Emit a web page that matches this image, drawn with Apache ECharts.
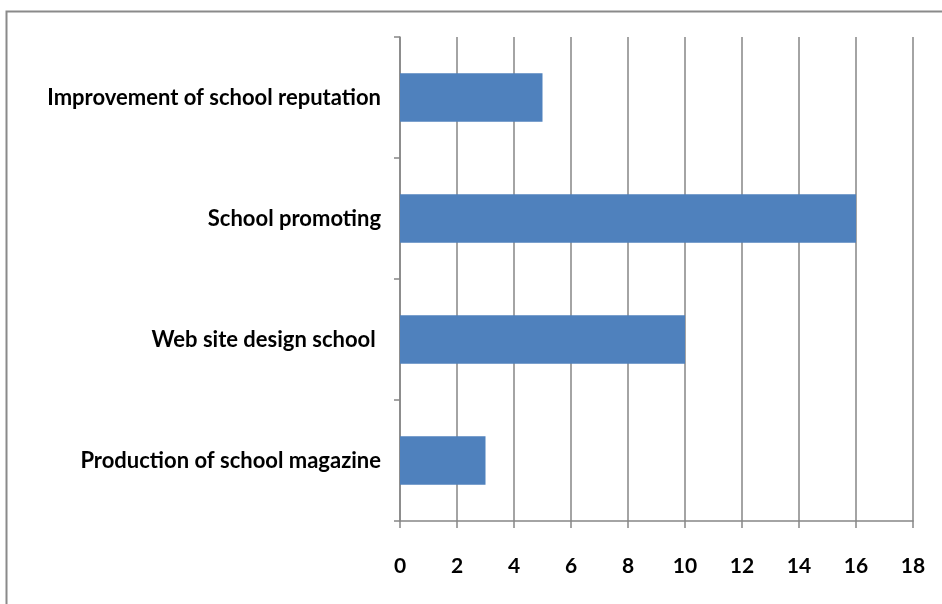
<!DOCTYPE html>
<html><head><meta charset="utf-8">
<script src="https://cdn.jsdelivr.net/npm/echarts@6/dist/echarts.min.js"></script>
<style>html,body{margin:0;padding:0;background:#fff}#c{width:942px;height:604px}</style>
</head><body><div id="c"></div>
<script>
const categories = ["Improvement of school reputation", "School promoting", "Web site design school ", "Production of school magazine"];
const values = [5, 16, 10, 3];
const xTicks = [0, 2, 4, 6, 8, 10, 12, 14, 16, 18];

const chart = echarts.init(document.getElementById('c'));
chart.setOption({
  animation: false,
  backgroundColor: '#fff',
  graphic: [{type: 'rect', left: 4, top: 9, shape: {width: 1000, height: 700}, style: {fill: 'none', stroke: '#8a8a8a', lineWidth: 2}}],
  grid: {left: 400, right: 29, top: 37, bottom: 83},
  xAxis: {
    type: 'value', min: xTicks[0], max: xTicks[xTicks.length - 1], interval: 2,
    axisLine: {show: true, lineStyle: {color: '#868686', width: 1.5}},
    axisTick: {show: true, length: 7, lineStyle: {color: '#868686', width: 1.5}},
    splitLine: {show: true, lineStyle: {color: '#868686', width: 1.5}},
    axisLabel: {margin: 35, color: '#000', fontFamily: 'Lato', fontSize: 21, fontWeight: 'bold'}
  },
  yAxis: {
    type: 'category', data: categories, inverse: true,
    axisLine: {show: true, lineStyle: {color: '#868686', width: 1.5}},
    axisTick: {show: true, length: 6, lineStyle: {color: '#868686', width: 1.5}},
    axisLabel: {margin: 19, color: '#000', fontFamily: 'Lato', fontSize: 22, fontWeight: 'bold'}
  },
  series: [{type: 'bar', data: values, barWidth: '40%', itemStyle: {color: '#4F81BD'}}]
});
</script></body></html>
